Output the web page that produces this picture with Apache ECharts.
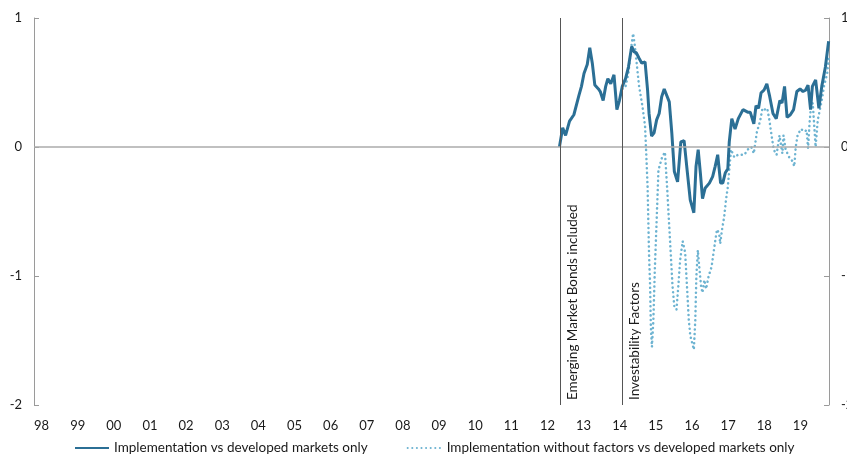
<!DOCTYPE html>
<html>
<head>
<meta charset="utf-8">
<script src="https://cdn.jsdelivr.net/npm/echarts@6/dist/echarts.min.js"></script>
<style>
  html, body { margin: 0; padding: 0; background: #fff; }
  #chart { width: 847px; height: 460px; }
</style>
</head>
<body>
<div id="chart"></div>
<script>
// decimal year positions and values
var solidYears = [2012.54, 2012.63, 2012.71, 2012.82, 2012.94, 2013.08, 2013.15, 2013.22, 2013.31, 2013.38,
  2013.45, 2013.52, 2013.62, 2013.67, 2013.75, 2013.82, 2013.88, 2013.96, 2014.05, 2014.13,
  2014.20, 2014.28, 2014.37, 2014.45, 2014.54, 2014.60, 2014.67, 2014.74, 2014.82, 2014.91,
  2014.98, 2015.02, 2015.09, 2015.16, 2015.23, 2015.30, 2015.37, 2015.44, 2015.49, 2015.58,
  2015.65, 2015.72, 2015.81, 2015.90, 2015.99, 2016.07, 2016.16, 2016.26, 2016.32, 2016.38,
  2016.44, 2016.50, 2016.57, 2016.69, 2016.78, 2016.85, 2016.92, 2017.00, 2017.06, 2017.13,
  2017.20, 2017.24, 2017.31, 2017.40, 2017.49, 2017.62, 2017.75, 2017.82, 2017.92, 2017.98,
  2018.05, 2018.12, 2018.20, 2018.28, 2018.36, 2018.45, 2018.54, 2018.64, 2018.70, 2018.77,
  2018.84, 2018.93, 2019.02, 2019.11, 2019.20, 2019.28, 2019.35, 2019.42, 2019.49, 2019.54,
  2019.63, 2019.72, 2019.80, 2019.90, 2019.99];
var solidValues = [0.00, 0.15, 0.09, 0.20, 0.25, 0.40, 0.47, 0.57, 0.64, 0.77,
  0.65, 0.48, 0.45, 0.43, 0.36, 0.47, 0.53, 0.49, 0.56, 0.29,
  0.36, 0.47, 0.53, 0.62, 0.78, 0.74, 0.73, 0.69, 0.65, 0.66,
  0.44, 0.26, 0.085, 0.11, 0.21, 0.26, 0.39, 0.45, 0.44, 0.35,
  0.11, -0.19, -0.27, 0.04, 0.05, -0.17, -0.41, -0.51, -0.15, -0.02,
  -0.20, -0.40, -0.32, -0.28, -0.23, -0.15, -0.06, -0.28, -0.28, -0.20,
  -0.17, 0.04, 0.22, 0.14, 0.22, 0.29, 0.27, 0.27, 0.18, 0.32,
  0.30, 0.42, 0.44, 0.49, 0.39, 0.26, 0.22, 0.36, 0.34, 0.47,
  0.23, 0.25, 0.29, 0.43, 0.45, 0.43, 0.44, 0.48, 0.29, 0.47,
  0.52, 0.30, 0.47, 0.62, 0.82];

var dottedYears = [2014.28, 2014.37, 2014.45, 2014.53, 2014.58, 2014.62, 2014.67, 2014.74, 2014.84, 2014.91,
  2014.95, 2014.98, 2015.00, 2015.02, 2015.05, 2015.07, 2015.10, 2015.14, 2015.18, 2015.23,
  2015.28, 2015.38, 2015.46, 2015.52, 2015.57, 2015.62, 2015.67, 2015.72, 2015.78, 2015.83,
  2015.88, 2015.95, 2016.02, 2016.07, 2016.12, 2016.16, 2016.26, 2016.30, 2016.33, 2016.37,
  2016.41, 2016.46, 2016.50, 2016.55, 2016.60, 2016.67, 2016.75, 2016.83, 2016.90, 2016.96,
  2016.99, 2017.04, 2017.10, 2017.15, 2017.20, 2017.24, 2017.29, 2017.33, 2017.38, 2017.48,
  2017.57, 2017.66, 2017.75, 2017.85, 2017.92, 2018.00, 2018.10, 2018.16, 2018.22, 2018.29,
  2018.35, 2018.41, 2018.47, 2018.55, 2018.63, 2018.68, 2018.71, 2018.74, 2018.80, 2018.90,
  2018.99, 2019.04, 2019.08, 2019.13, 2019.22, 2019.32, 2019.38, 2019.42, 2019.46, 2019.50,
  2019.55, 2019.60, 2019.63, 2019.69, 2019.80, 2019.86, 2019.95, 2020.00];
var dottedValues = [0.45, 0.47, 0.57, 0.78, 0.88, 0.80, 0.67, 0.48, 0.31, 0.16,
  -0.10, -0.31, -0.57, -0.83, -1.08, -1.39, -1.55, -1.34, -0.95, -0.57,
  -0.18, -0.08, -0.04, -0.31, -0.57, -0.82, -1.08, -1.24, -1.26, -1.08,
  -0.88, -0.73, -0.82, -1.08, -1.34, -1.46, -1.57, -1.34, -1.00, -0.80,
  -0.93, -1.08, -1.13, -1.03, -1.10, -1.00, -0.93, -0.77, -0.64, -0.67,
  -0.75, -0.64, -0.54, -0.41, -0.31, -0.18, -0.02, -0.01, -0.08, -0.06,
  -0.06, -0.06, -0.02, 0.00, -0.05, 0.11, 0.21, 0.30, 0.29, 0.30,
  0.21, 0.09, -0.02, -0.06, 0.09, 0.00, -0.05, 0.09, -0.02, -0.08,
  -0.11, -0.15, 0.00, 0.09, 0.14, 0.12, 0.13, -0.01, 0.18, 0.31,
  0.34, 0.13, 0.00, 0.21, 0.36, 0.47, 0.57, 0.70];

var yearTicks = ['98', '99', '00', '01', '02', '03', '04', '05', '06', '07', '08',
  '09', '10', '11', '12', '13', '14', '15', '16', '17', '18', '19'];

var eventYears = [2012.555, 2014.29];
var eventLabels = ['Emerging Market Bonds included', 'Investability Factors'];

var seriesNames = ['Implementation vs developed markets only',
  'Implementation without factors vs developed markets only'];

function zip(xs, ys) {
  return xs.map(function (x, i) { return [x, ys[i]]; });
}

var font = 'Lato, "Open Sans", sans-serif';
var chart = echarts.init(document.getElementById('chart'));

chart.setOption({
  animation: false,
  grid: { left: 34, right: 18, top: 18, bottom: 55, outerBoundsMode: 'none', containLabel: false },
  legend: {
    data: seriesNames,
    left: 69,
    bottom: 0,
    itemWidth: 34,
    itemHeight: 12,
    itemGap: 39,
    itemStyle: { opacity: 0 },
    textStyle: { fontFamily: font, fontSize: 13.5, color: '#1a1a1a' }
  },
  xAxis: {
    type: 'value',
    min: 1998,
    max: 2020,
    interval: 1,
    axisLine: { show: false },
    axisTick: { show: false },
    splitLine: { show: false },
    axisLabel: {
      showMaxLabel: false,
      align: 'left',
      margin: 14,
      fontFamily: font,
      fontSize: 13,
      color: '#1a1a1a',
      formatter: function (v) { return yearTicks[v - 1998] || ''; }
    }
  },
  yAxis: [0, 1].map(function (i) {
    return {
      type: 'value',
      position: i ? 'right' : 'left',
      min: -2,
      max: 1,
      interval: 1,
      axisLine: { show: true, lineStyle: { color: '#9a9a9a', width: 1 } },
      axisTick: { show: true, inside: true, length: 5, lineStyle: { color: '#9a9a9a' } },
      splitLine: { show: false },
      axisLabel: { margin: 12, fontFamily: font, fontSize: 13, color: '#1a1a1a' }
    };
  }),
  series: [
    {
      name: 'base',
      type: 'line',
      data: [],
      z: 1,
      markLine: {
        silent: true,
        symbol: 'none',
        animation: false,
        data: [
          { yAxis: 0, lineStyle: { color: '#ababab', width: 1.5, type: 'solid' }, label: { show: false } }
        ].concat(eventYears.map(function (x, i) {
          return {
            xAxis: x,
            lineStyle: { color: '#555', width: 1, type: 'solid' },
            label: {
              show: true,
              position: 'insideStartBottom',
              formatter: eventLabels[i],
              fontFamily: font,
              fontSize: 13.5,
              color: '#1a1a1a'
            }
          };
        }))
      }
    },
    {
      name: seriesNames[1],
      type: 'line',
      z: 2,
      data: zip(dottedYears, dottedValues),
      symbol: 'none',
      color: '#6db3d1',
      lineStyle: { color: '#6db3d1', width: 2.5, type: [0.1, 4.5], cap: 'round' }
    },
    {
      name: seriesNames[0],
      type: 'line',
      z: 3,
      data: zip(solidYears, solidValues),
      symbol: 'none',
      color: '#2b6f95',
      lineStyle: { color: '#2b6f95', width: 3 }
    }
  ]
});
</script>
</body>
</html>
